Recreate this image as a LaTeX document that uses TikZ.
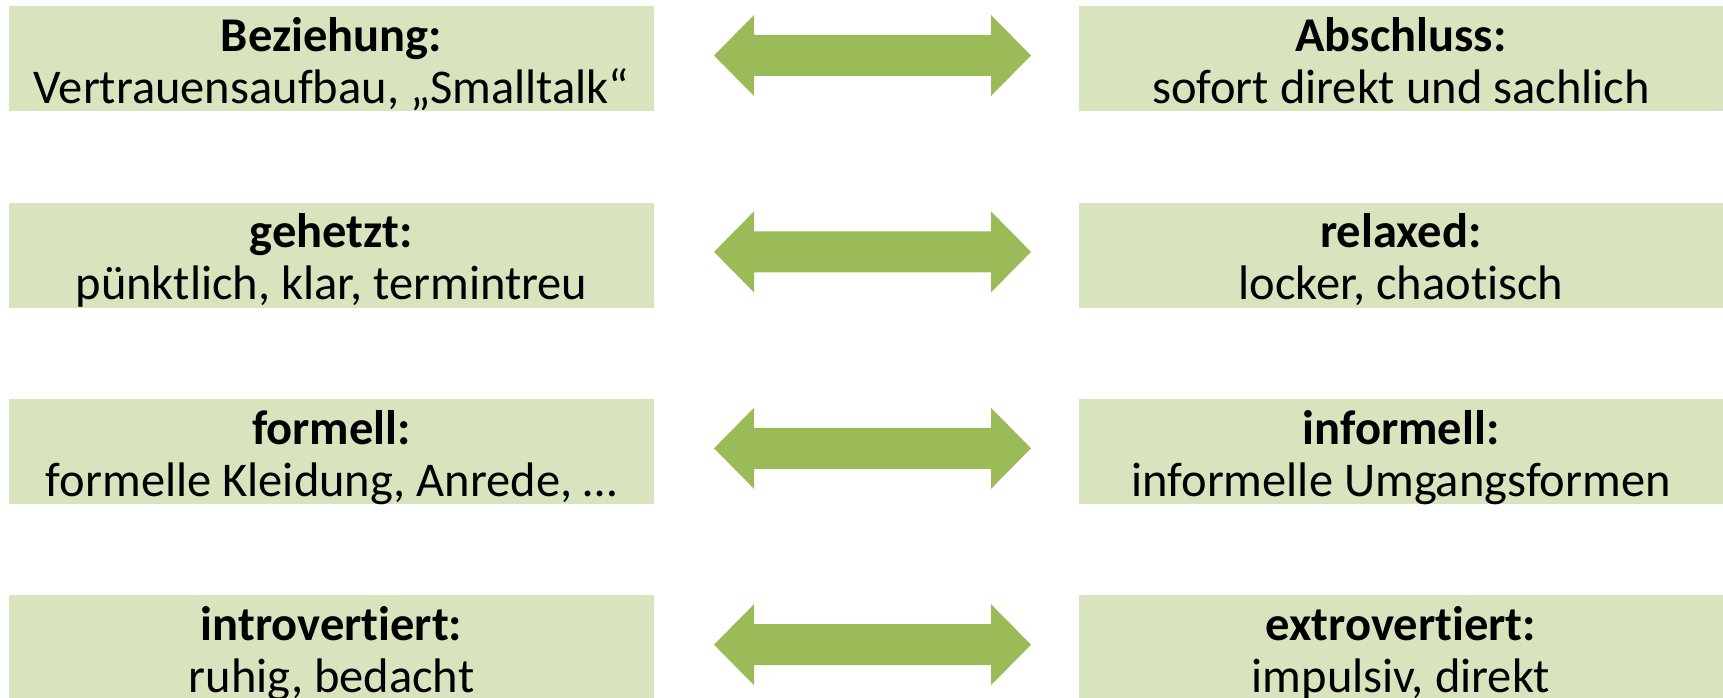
\documentclass[tikz,border=0pt]{standalone}
\usepackage{fontspec}
\setmainfont{Carlito}[Ligatures=NoCommon]
\definecolor{boxgreen}{HTML}{D7E4BD}
\definecolor{arrowgreen}{HTML}{9BBB59}
\begin{document}
\begin{tikzpicture}[x=1pt,y=-1pt]
\useasboundingbox (0,0) rectangle (1723,698);
\tikzset{
  box/.style={fill=boxgreen, minimum width=645pt, minimum height=105pt, inner sep=0pt, anchor=north west},
  txt/.style={anchor=base, inner sep=0pt, font=\fontsize{48.5}{58}\selectfont},
  ttl/.style={txt, font=\fontsize{48.5}{58}\selectfont\bfseries},
}
\foreach \i/\lt/\ls/\rt/\rs in {
  0/{Beziehung:}/{Vertrauensaufbau, „Smalltalk“}/{Abschluss:}/{sofort direkt und sachlich},
  1/{gehetzt:}/{pünktlich, klar, termintreu}/{relaxed:}/{locker, chaotisch},
  2/{formell:}/{formelle Kleidung, Anrede, …}/{informell:}/{informelle Umgangsformen},
  3/{introvertiert:}/{ruhig, bedacht}/{extrovertiert:}/{impulsiv, direkt}}{
  \pgfmathsetmacro\t{6+196.4*\i}
  \pgfmathsetmacro\c{\t+49.5}
  \node[box] (L\i) at (9,\t) {};
  \node[box] (R\i) at (1079,\t) {};
  \node[ttl] (Lt\i) at (331.5,\t+45.5) {\lt};
  \node[txt] (Ls\i) at (331.5,\t+97.5) {\ls};
  \node[ttl] (Rt\i) at (1401,\t+45.5) {\rt};
  \node[txt] (Rs\i) at (1401,\t+97.5) {\rs};
  \fill[arrowgreen] (714,\c) -- (754,\c-40.5) -- (754,\c-20.5) -- (991,\c-20.5) -- (991,\c-40.5)
     -- (1031,\c) -- (991,\c+40.5) -- (991,\c+20.5) -- (754,\c+20.5) -- (754,\c+40.5) -- cycle;
}
\end{tikzpicture}
\end{document}
